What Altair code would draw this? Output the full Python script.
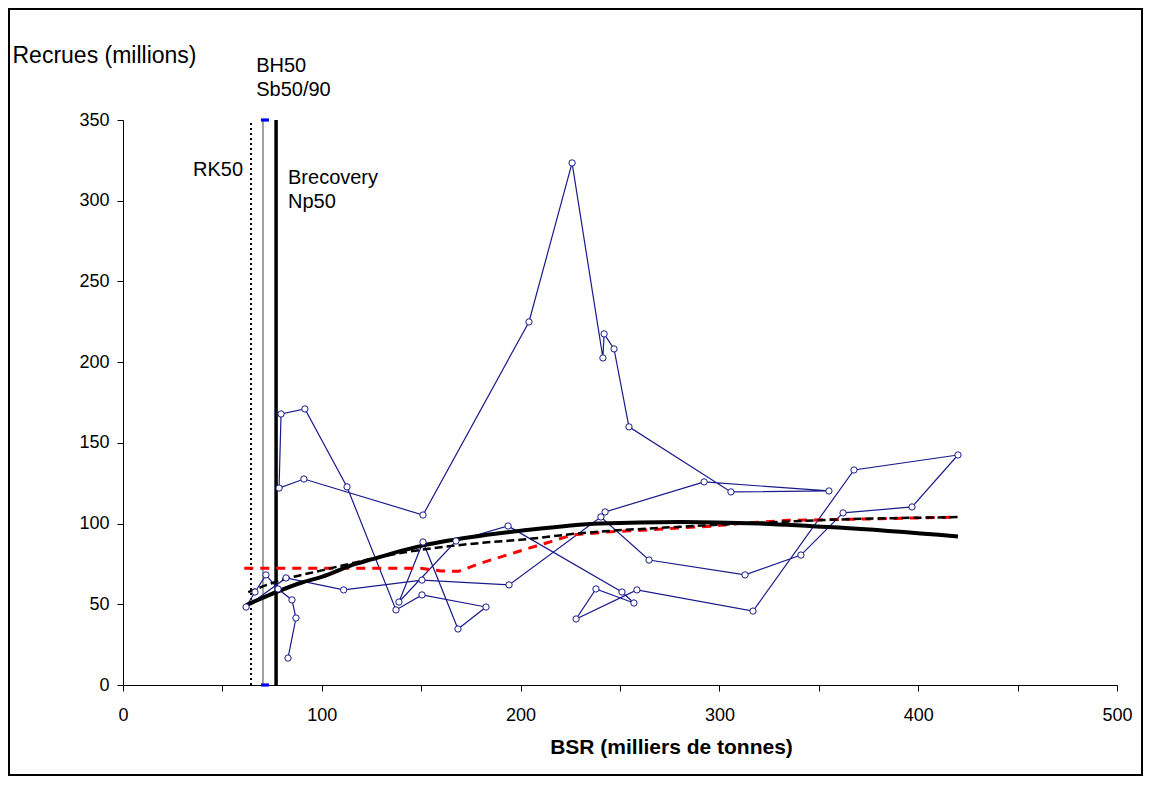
import altair as alt
import pandas as pd

# --- Stock-recruitment series (in chronological order as connected) ---
ssb = [242.5, 292.3, 355.1, 305.8, 254.5, 247.0, 242.0, 241.4, 225.9, 204.2, 150.9, 91.0, 78.5, 79.5, 91.5, 112.7,
       137.3, 150.4, 182.6, 168.5, 150.9, 138.8, 167.5, 193.7, 251.0, 257.0, 237.9, 227.9, 258.5, 316.9,
       367.7, 420.0, 396.9, 362.2, 341.0, 312.9, 264.6, 240.4, 194.2, 150.4, 111.0,
       82.0, 61.9, 66.4, 71.9, 78.0, 85.0, 87.0, 83.0]
rec = [107.2, 125.8, 120.2, 119.6, 159.9, 208.2, 217.5, 202.6, 323.4, 224.9, 105.3, 127.6, 122.0, 167.9, 171.0, 122.7,
       46.5, 55.8, 48.3, 34.7, 88.6, 51.4, 89.2, 98.5, 57.6, 50.8, 59.5, 40.9, 58.9, 45.8,
       133.2, 142.5, 110.3, 106.6, 80.5, 68.2, 77.4, 104.1, 62.0, 65.0, 58.9,
       66.3, 48.3, 57.6, 68.2, 59.5, 52.7, 41.5, 16.7]

# --- Fitted curves ---
fit_solid_x = [62, 78, 90, 100, 117, 124, 151, 180, 200, 240, 280, 320, 360, 420]
fit_solid_y = [49.5, 58, 63.5, 67, 75, 77.5, 86.5, 92.5, 95.5, 100, 101, 100, 97.5, 92]
fit_dash_x = [63, 77, 100, 141, 180, 200, 230, 280, 320, 360, 420]
fit_dash_y = [57.5, 64, 71, 82, 88, 90, 94, 98, 100.5, 102.5, 104]
fit_red_x = [61, 150, 160, 169, 180, 198, 213, 226, 246, 264, 280, 297, 314, 334, 381, 420]
fit_red_y = [72.3, 72.3, 70.6, 70.5, 75.5, 82.4, 88, 93, 95, 96, 97.3, 98.5, 100.4, 102, 103, 104]

# --- Reference points (BSR) ---
rk50 = 64.4
bh50 = 70.4
brecovery = 77.0

x_ticks = list(range(0, 501, 50))
y_ticks = list(range(0, 351, 50))

NAVY = "#1a1a8c"
FONT = "Liberation Sans"

series = pd.DataFrame({"ssb": ssb, "rec": rec, "order": list(range(len(ssb)))})
solid = pd.DataFrame({"x": fit_solid_x, "y": fit_solid_y})
dashed = pd.DataFrame({"x": fit_dash_x, "y": fit_dash_y})
red = pd.DataFrame({"x": fit_red_x, "y": fit_red_y})

xs = alt.Scale(domain=[0, 500], nice=False, zero=False)
ys = alt.Scale(domain=[0, 350], nice=False, zero=False)

xaxis = alt.Axis(values=x_ticks, labelExpr="datum.value % 100 == 0 ? datum.label : ''",
                 title="BSR (milliers de tonnes)", titleFontWeight="bold", titleFontSize=21,
                 titleX=548, titleAlign="center", titleBaseline="middle", titleY=62,
                 labelFontSize=18, labelFont=FONT, titleFont=FONT, tickSize=6, labelPadding=15,
                 domainColor="black", tickColor="black", labelColor="black",
                 titleColor="black", grid=False, labelFlush=False)
yaxis = alt.Axis(values=y_ticks, title="Recrues (millions)", titleAngle=0, titleAlign="left",
                 titleBaseline="middle", titleX=-111, titleY=-65, titleFontWeight="normal",
                 titleFontSize=23, labelFontSize=18, labelFont=FONT, titleFont=FONT, tickSize=6,
                 labelPadding=8, domainColor="black", tickColor="black", labelColor="black",
                 titleColor="black", grid=False)

base_x = alt.X("x:Q", scale=xs, axis=xaxis)
base_y = alt.Y("y:Q", scale=ys, axis=yaxis)

frame = alt.Chart(pd.DataFrame({"a": [0]})).mark_rect(fillOpacity=0, stroke="black", strokeWidth=2).encode(
    x=alt.value(-114), x2=alt.value(1019), y=alt.value(-111), y2=alt.value(655))

vlines = pd.DataFrame({"x": [rk50, bh50, brecovery], "y": [0, 0, 0], "y2": [350, 350, 350],
                       "kind": ["RK50", "BH50", "Brecovery"]})
rk_rule = alt.Chart(vlines[vlines.kind == "RK50"]).mark_rule(color="black", strokeWidth=2, strokeDash=[2, 3]).encode(
    x=base_x, y=base_y, y2="y2:Q")
bh_rule = alt.Chart(vlines[vlines.kind == "BH50"]).mark_rule(color="#808080", strokeWidth=1.5).encode(
    x=base_x, y=base_y, y2="y2:Q")
br_rule = alt.Chart(vlines[vlines.kind == "Brecovery"]).mark_rule(color="black", strokeWidth=3.5).encode(
    x=base_x, y=base_y, y2="y2:Q")

sb_marks = alt.Chart(pd.DataFrame({"x": [bh50 + 1.0, bh50 + 1.0], "y": [350, 0]})).mark_point(
    shape="M-1,-0.4L1,-0.4L1,0.4L-1,0.4Z", filled=True, color="#0000ff", size=64, opacity=1).encode(
    x=base_x, y=base_y)

line = alt.Chart(series).mark_line(color=NAVY, strokeWidth=1.2).encode(
    x=alt.X("ssb:Q", scale=xs, axis=xaxis), y=alt.Y("rec:Q", scale=ys, axis=yaxis), order="order:Q")

c_solid = alt.Chart(solid).mark_line(color="black", strokeWidth=4, interpolate="monotone").encode(x=base_x, y=base_y)
c_dash = alt.Chart(dashed).mark_line(color="black", strokeWidth=2.5, strokeDash=[8, 4], interpolate="monotone").encode(
    x=base_x, y=base_y)
c_red = alt.Chart(red).mark_line(color="#ff0000", strokeWidth=3, strokeDash=[9, 7]).encode(x=base_x, y=base_y)

pts = alt.Chart(series).mark_point(shape="circle", filled=True, fill="white", stroke=NAVY, strokeWidth=1,
                                   size=40, opacity=1).encode(
    x=alt.X("ssb:Q", scale=xs, axis=xaxis), y=alt.Y("rec:Q", scale=ys, axis=yaxis))

def label(txt, x, y, align):
    return alt.Chart(pd.DataFrame({"x": [x], "y": [y], "t": [txt]})).mark_text(
        align=align, baseline="middle", fontSize=20, font=FONT, color="black").encode(
        x=base_x, y=base_y, text="t:N")

labels = [
    label("RK50", 60.4, 319, "right"),
    label("BH50", 67.0, 383.5, "left"),
    label("Sb50/90", 67.0, 368.6, "left"),
    label("Brecovery", 83.0, 314, "left"),
    label("Np50", 83.0, 299, "left"),
]

chart = alt.layer(frame, rk_rule, bh_rule, br_rule, line, c_red, c_dash, c_solid, pts, sb_marks, *labels).properties(
    width=994, height=565,
    padding={"left": 115, "top": 112, "right": 26, "bottom": 93},
    autosize=alt.AutoSizeParams(type="none"),
    background="white",
).configure_view(stroke="transparent")

chart.save("out.html", embed_options={"renderer": "svg", "actions": False})
